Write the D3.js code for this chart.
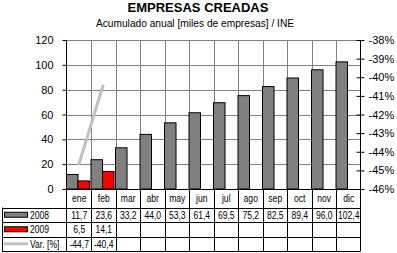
<!DOCTYPE html>
<html>
<head>
<meta charset="utf-8">
<script src="https://cdn.jsdelivr.net/npm/d3@7"></script>
<style>
  body { margin: 0; background: #fff; }
  text { font-family: "Liberation Sans", Arial, sans-serif; fill: #000; }
</style>
</head>
<body>
<div id="chart"></div>
<script>
const months = ['ene', 'feb', 'mar', 'abr', 'may', 'jun', 'jul', 'ago', 'sep', 'oct', 'nov', 'dic']
const values2008 = [11.7, 23.6, 33.2, 44.0, 53.3, 61.4, 69.5, 75.2, 82.5, 89.4, 96.0, 102.4]
const values2009 = [6.5, 14.1]
const variation = [-44.7, -40.4]
const leftTicks = [0, 20, 40, 60, 80, 100, 120]
const rightTicks = [-46, -45, -44, -43, -42, -41, -40, -39, -38]

const W = 397, H = 253
const PLOT = {LEFT: 66.5, RIGHT: 360.5, TOP: 40, BOTTOM: 189}
const ROWS = [189, 207.5, 222, 236.5, 251]
const TABLE_LEFT = 2
const SQUEEZE = 0.78 // table font is narrower than the axis font

const fmt = v => v.toFixed(1).replace('.', ',')

const svg = d3.select('#chart').append('svg')
    .attr('width', W)
    .attr('height', H)

const x = d3.scaleBand()
    .domain(months)
    .range([PLOT.LEFT, PLOT.RIGHT])

const xs = d3.scaleBand()
    .domain(['2008', '2009'])
    .range([0, x.bandwidth() * 0.94])

const y = d3.scaleLinear()
    .domain([0, 120])
    .range([PLOT.BOTTOM, PLOT.TOP])

const y2 = d3.scaleLinear()
    .domain([-46, -38])
    .range([PLOT.BOTTOM, PLOT.TOP])

// title
svg.append('text')
    .attr('x', 198).attr('y', 12)
    .attr('text-anchor', 'middle')
    .style('font-size', '13px').style('font-weight', 'bold')
    .text('EMPRESAS CREADAS')

svg.append('text')
    .attr('x', 195).attr('y', 27)
    .attr('text-anchor', 'middle')
    .style('font-size', '10.2px')
    .text('Acumulado anual [miles de empresas] / INE')

// gridlines
svg.append('g').selectAll('line')
    .data(leftTicks.slice(1))
    .enter().append('line')
    .attr('x1', PLOT.LEFT).attr('x2', PLOT.RIGHT)
    .attr('y1', d => Math.round(y(d)) + 0.5).attr('y2', d => Math.round(y(d)) + 0.5)
    .attr('stroke', '#808080')

svg.append('g').selectAll('line')
    .data(months.slice(1))
    .enter().append('line')
    .attr('x1', d => Math.round(x(d)) + 0.5).attr('x2', d => Math.round(x(d)) + 0.5)
    .attr('y1', PLOT.TOP).attr('y2', PLOT.BOTTOM)
    .attr('stroke', '#808080')

// bars
const bars = svg.append('g')
bars.selectAll('rect.b2008')
    .data(values2008)
    .enter().append('rect')
    .attr('x', (d, i) => x(months[i]) + xs('2008'))
    .attr('y', d => y(d))
    .attr('width', xs.bandwidth())
    .attr('height', d => y(0) - y(d))
    .attr('fill', '#808080')
    .attr('stroke', '#000')

bars.selectAll('rect.b2009')
    .data(values2009)
    .enter().append('rect')
    .attr('x', (d, i) => x(months[i]) + xs('2009'))
    .attr('y', d => y(d))
    .attr('width', xs.bandwidth())
    .attr('height', d => y(0) - y(d))
    .attr('fill', '#ff0000')
    .attr('stroke', '#000')

// variation line
const line = d3.line()
    .x((d, i) => x(months[i]) + x.bandwidth() / 2)
    .y(d => y2(d))

svg.append('path')
    .datum(variation)
    .attr('d', line)
    .attr('fill', 'none')
    .attr('stroke', '#c0c0c0')
    .attr('stroke-width', 3)

// axes
const yAxis = svg.append('g')
    .attr('transform', `translate(${PLOT.LEFT},0)`)
    .call(d3.axisLeft(y).tickValues(leftTicks).tickSize(4).tickPadding(9))
yAxis.select('.domain').remove()
yAxis.selectAll('text').style('font-size', '11px').attr('font-family', null)

const y2Axis = svg.append('g')
    .attr('transform', `translate(${PLOT.RIGHT},0)`)
    .call(d3.axisRight(y2).tickValues(rightTicks).tickSize(4).tickPadding(4)
        .tickFormat(d => d + '%'))
y2Axis.select('.domain').remove()
y2Axis.selectAll('.tick line').attr('x1', -4)
y2Axis.selectAll('text').style('font-size', '11px').attr('font-family', null)

svg.append('line')
    .attr('x1', PLOT.LEFT).attr('x2', PLOT.LEFT)
    .attr('y1', PLOT.TOP).attr('y2', ROWS[4])
    .attr('stroke', '#000')
svg.append('line')
    .attr('x1', PLOT.RIGHT).attr('x2', PLOT.RIGHT)
    .attr('y1', PLOT.TOP).attr('y2', ROWS[4])
    .attr('stroke', '#000')

// data table
const table = svg.append('g')
table.selectAll('line.h')
    .data(ROWS)
    .enter().append('line')
    .attr('x1', (d, i) => i === 0 ? PLOT.LEFT : TABLE_LEFT)
    .attr('x2', PLOT.RIGHT)
    .attr('y1', d => Math.round(d) + 0.5).attr('y2', d => Math.round(d) + 0.5)
    .attr('stroke', '#000')

table.append('line')
    .attr('x1', TABLE_LEFT + 0.5).attr('x2', TABLE_LEFT + 0.5)
    .attr('y1', ROWS[1]).attr('y2', ROWS[4])
    .attr('stroke', '#000')

table.selectAll('line.v')
    .data(months.slice(1))
    .enter().append('line')
    .attr('x1', d => Math.round(x(d)) + 0.5).attr('x2', d => Math.round(x(d)) + 0.5)
    .attr('y1', ROWS[0]).attr('y2', ROWS[4])
    .attr('stroke', '#000')

const cellText = (row, data, f) => table.append('g').selectAll('text')
    .data(data)
    .enter().append('text')
    .attr('transform', (d, i) => {
        const cx = x(months[i]) + x.bandwidth() / 2 + 0.5
        const cy = (ROWS[row] + ROWS[row + 1]) / 2 + 4
        return `translate(${cx},${cy}) scale(${SQUEEZE},1)`
    })
    .attr('text-anchor', 'middle')
    .style('font-size', '11px')
    .text(f)

cellText(0, months, d => d)
cellText(1, values2008, fmt)
cellText(2, values2009, fmt)
cellText(3, variation, fmt)

// legend keys
const keyY = i => (ROWS[i] + ROWS[i + 1]) / 2
table.append('rect')
    .attr('x', 4.5).attr('y', keyY(1) - 2.5)
    .attr('width', 23).attr('height', 5)
    .attr('fill', '#808080').attr('stroke', '#000')
table.append('rect')
    .attr('x', 4.5).attr('y', keyY(2) - 2.5)
    .attr('width', 23).attr('height', 5)
    .attr('fill', '#ff0000').attr('stroke', '#000')
table.append('line')
    .attr('x1', 4).attr('x2', 28)
    .attr('y1', keyY(3)).attr('y2', keyY(3))
    .attr('stroke', '#c0c0c0').attr('stroke-width', 3)

const legendNames = ['2008', '2009', 'Var. [%]']
table.append('g').selectAll('text')
    .data(legendNames)
    .enter().append('text')
    .attr('transform', (d, i) => `translate(30,${keyY(i + 1) + 4}) scale(${SQUEEZE},1)`)
    .style('font-size', '11px')
    .text(d => d)
</script>
</body>
</html>
